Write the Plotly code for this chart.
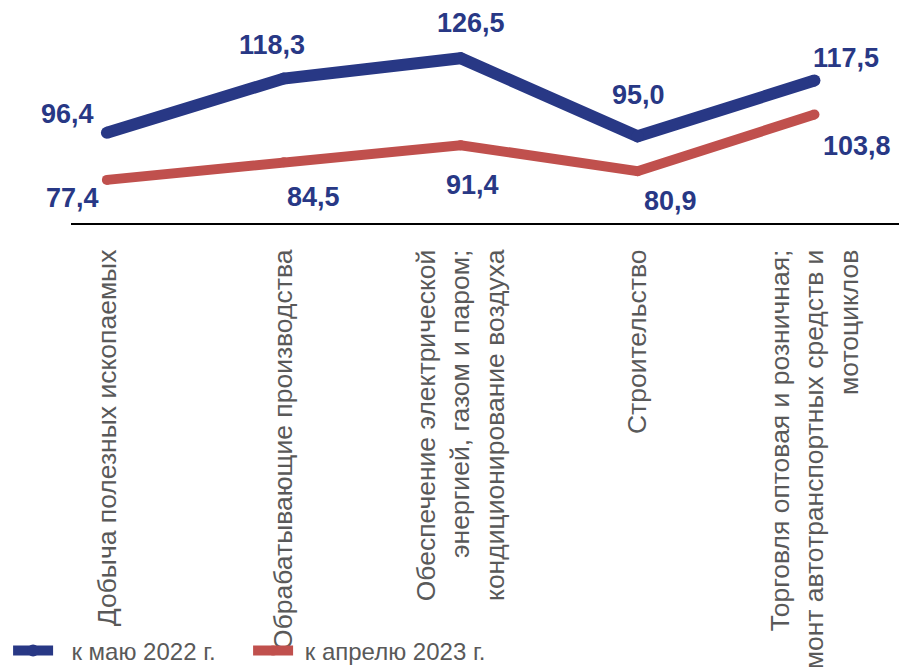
import plotly.graph_objects as go

categories = [
    "Добыча полезных ископаемых",
    "Обрабатывающие производства",
    "Обеспечение электрической<br>энергией, газом и паром;<br>кондиционирование воздуха",
    "Строительство",
    "Торговля оптовая и розничная;<br>ремонт автотранспортных средств и<br>мотоциклов",
]
series_names = ["к маю 2022 г.", "к апрелю 2023 г."]
may_2022 = [96.4, 118.3, 126.5, 95.0, 117.5]
apr_2023 = [77.4, 84.5, 91.4, 80.9, 103.8]

# styling: label offsets (px) relative to points
may_offsets = [(-39, 19), (-12, 34), (10, 35), (1, 41), (32, 23)]
apr_offsets = [(-34, -18), (30, -35), (12, -40), (33, -30), (43, -32)]

BLUE = "#283885"
RED = "#C0504D"
GRAY = "#595959"
FONT = "Liberation Sans, Arial, sans-serif"
PADS = ["\u00a0\u00a0", "\u00a0"]

xs = list(range(len(categories)))

fig = go.Figure()
fig.add_trace(go.Scatter(x=xs, y=may_2022, name=PADS[0] + series_names[0], mode="lines+markers",
                         line=dict(color=BLUE, width=12), marker=dict(color=BLUE, size=12)))
fig.add_trace(go.Scatter(x=xs, y=apr_2023, name=PADS[1] + series_names[1], mode="lines+markers",
                         line=dict(color=RED, width=10), marker=dict(color=RED, size=10)))

for vals, offs in ((may_2022, may_offsets), (apr_2023, apr_offsets)):
    for i, (v, (dx, dy)) in enumerate(zip(vals, offs)):
        fig.add_annotation(x=xs[i], y=v, text=f"{v:.1f}".replace(".", ","), showarrow=False,
                           xshift=dx, yshift=dy,
                           font=dict(family=FONT, size=27, color=BLUE, weight="bold"))

fig.update_layout(
    width=899, height=667,
    margin=dict(l=71, r=0, t=0, b=444, autoexpand=False),
    paper_bgcolor="white", plot_bgcolor="white",
    showlegend=True,
    legend=dict(orientation="h", xref="container", yref="container", x=0.009, y=0.024,
                xanchor="left", yanchor="middle", font=dict(family=FONT, size=24, color=GRAY),
                bgcolor="rgba(0,0,0,0)", entrywidth=185, entrywidthmode="pixels",
                itemwidth=40, tracegroupgap=0),
    font=dict(family=FONT),
)
fig.update_xaxes(range=[-0.203, 4.478], tickmode="array", tickvals=xs, ticktext=categories,
                 tickangle=-90, tickfont=dict(family=FONT, size=26.5, color=GRAY),
                 showgrid=False, zeroline=False, showline=True, linecolor="black", linewidth=2,
                 ticks="", ticklabelstandoff=14, automargin=False)
fig.update_yaxes(range=[60, 150], visible=False, showgrid=False, zeroline=False, automargin=False)

fig.write_html("out.html", config={"displayModeBar": False},
               post_script="document.body.style.margin='0';")
